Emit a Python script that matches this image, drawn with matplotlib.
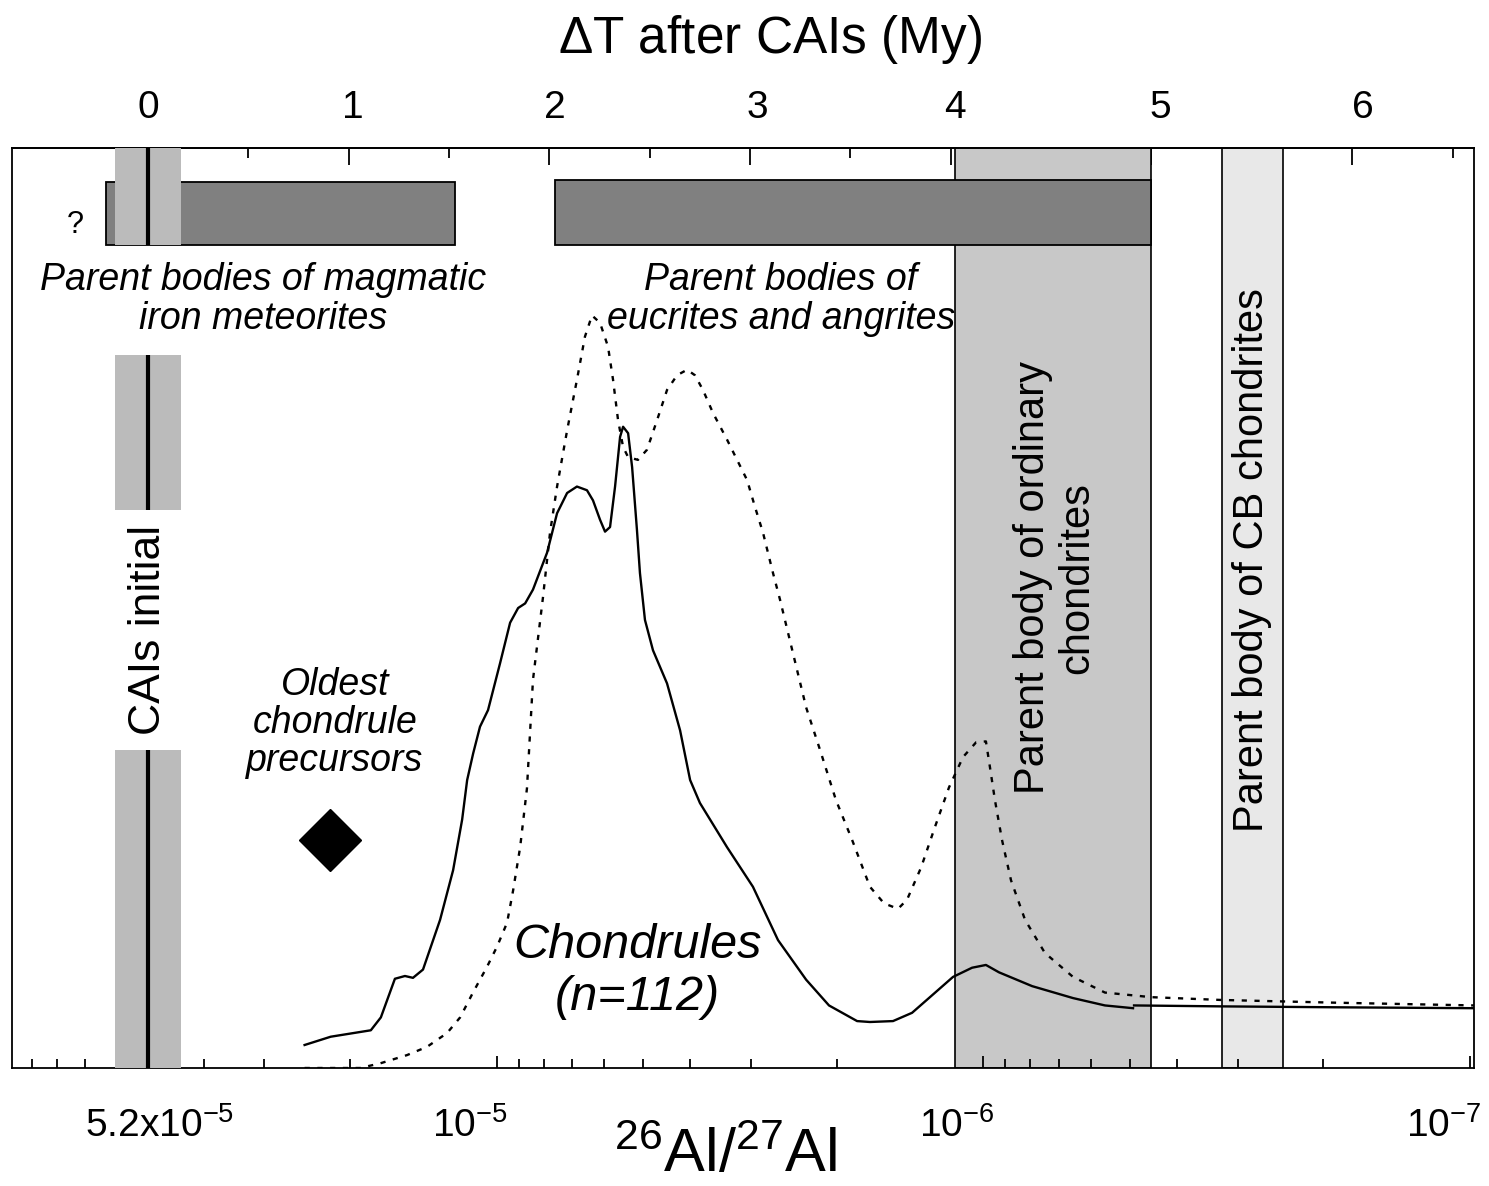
import numpy as np
import matplotlib
matplotlib.use('Agg')
from matplotlib import pyplot as plt
from matplotlib.transforms import ScaledTranslation

plt.rcParams['font.family'] = ['Liberation Sans', 'DejaVu Sans']
plt.rcParams['mathtext.fontset'] = 'custom'
plt.rcParams['mathtext.rm'] = 'Liberation Sans'
plt.rcParams['mathtext.it'] = 'Liberation Sans:italic'
plt.rcParams['mathtext.bf'] = 'Liberation Sans:bold'

# 26Al decay: CAI initial ratio and half-life (My)
al_initial = 5.2e-5
half_life = 0.73

# chondrule 26Al/27Al distribution (solid), dT after CAIs in My vs density (arb.)
chondrule_t = [0.78, 0.91, 1.11, 1.16, 1.23, 1.28, 1.32, 1.37, 1.455, 1.52, 1.565, 1.59,
               1.62, 1.654, 1.694, 1.754, 1.804, 1.844, 1.879, 1.918, 1.988, 2.038, 2.088,
               2.137, 2.187, 2.217, 2.252, 2.277, 2.302, 2.327, 2.352, 2.367, 2.392, 2.412,
               2.436, 2.451, 2.476, 2.516, 2.586, 2.651, 2.701, 2.75, 2.885, 3.014, 3.139,
               3.279, 3.393, 3.533, 3.597, 3.712, 3.807, 3.896, 4.011, 4.106, 4.175, 4.24,
               4.405, 4.609, 4.768, 4.908]
chondrule_v = [2.5, 3.4, 4.1, 5.5, 9.7, 10.0, 9.8, 10.7, 16.1, 21.5, 27.0, 31.3,
               34.2, 37.1, 38.9, 44.0, 48.4, 50.0, 50.5, 52.0, 56.0, 60.3, 62.5,
               63.2, 62.8, 61.7, 59.6, 58.3, 58.8, 63.2, 68.6, 69.7, 69.0, 65.3,
               58.5, 53.8, 48.7, 45.4, 41.8, 36.7, 31.3, 28.8, 24.0, 19.7, 13.9,
               9.6, 6.8, 5.1, 5.0, 5.1, 6.0, 7.7, 9.9, 10.9, 11.2, 10.4,
               8.9, 7.6, 6.8, 6.5]
tail_t = [4.913, 5.341, 5.914, 6.607]
tail_v = [6.8, 6.7, 6.6, 6.5]

# differentiated meteorites distribution (dotted)
dotted_t = [0.78, 1.056, 1.156, 1.29, 1.39, 1.49, 1.555, 1.619, 1.689, 1.739, 1.789, 1.819,
            1.854, 1.888, 1.918, 1.968, 2.003, 2.038, 2.088, 2.137, 2.177, 2.212, 2.252,
            2.292, 2.317, 2.342, 2.367, 2.392, 2.441, 2.486, 2.536, 2.586, 2.636, 2.686,
            2.725, 2.765, 2.815, 2.885, 2.935, 2.985, 3.024, 3.064, 3.114, 3.149, 3.279,
            3.348, 3.428, 3.508, 3.597, 3.667, 3.737, 3.782, 3.852, 3.921, 3.991, 4.061,
            4.126, 4.175, 4.195, 4.22, 4.255, 4.3, 4.37, 4.469, 4.609, 4.768, 4.998,
            5.341, 5.914, 6.607]
dotted_v = [0.0, 0.0, 0.5, 1.4, 2.3, 3.8, 5.5, 8.2, 11.0, 13.2, 15.8, 19.3,
            24.0, 30.4, 42.2, 51.2, 58.2, 63.2, 69.3, 74.8, 79.5, 81.8, 81.0,
            78.4, 74.8, 70.4, 67.5, 66.4, 66.1, 67.2, 70.4, 73.7, 75.3, 75.9,
            75.3, 73.7, 71.2, 68.3, 66.1, 63.9, 61.0, 58.2, 53.8, 50.9, 39.2,
            34.6, 29.1, 24.8, 19.7, 17.9, 17.3, 18.3, 21.8, 26.2, 30.5, 33.8,
            35.4, 35.5, 32.7, 29.1, 24.8, 20.4, 16.1, 12.5, 9.9, 8.2, 7.7,
            7.4, 7.1, 6.8]

# accretion intervals (My after CAIs)
iron_bar = (-0.21, 1.53)
eucrite_bar = (2.03, 5.0)
oc_band = (4.02, 5.0)
cb_band = (5.35, 5.655)
cai_band = (-0.165, 0.165)
cai_segments = [(89.5, 100), (60.7, 77.5), (0, 34.6)]
precursor_t = [0.907]
precursor_v = [24.8]

top_ticks = [0, 1, 2, 3, 4, 5, 6]
al_major = [5.2e-5, 1e-5, 1e-6, 1e-7]
al_major_labels = ['5.2x$10^{-5}$', '$10^{-5}$', '$10^{-6}$', '$10^{-7}$']
al_minor = [9e-5, 8e-5, 7e-5, 6e-5, 5e-5, 4e-5, 3e-5, 2e-5,
            9e-6, 8e-6, 7e-6, 6e-6, 5e-6, 4e-6, 3e-6, 2e-6,
            9e-7, 8e-7, 7e-7, 6e-7, 5e-7, 4e-7, 3e-7, 2e-7]

lam = np.log(2) / half_life


def al_to_t(r):
    return np.log(al_initial / np.asarray(r)) / lam


fig = plt.figure(figsize=(14.89, 11.86), dpi=100)
ax = fig.add_axes([12 / 1489, 118 / 1186, 1462 / 1489, 920 / 1186])
ax.set_xlim(-0.678, 6.607)
ax.set_ylim(0, 100)

# parent body bands
ax.axvspan(*oc_band, facecolor='#c8c8c8', edgecolor='black', lw=1.2, zorder=1)
ax.axvspan(*cb_band, facecolor='#e8e8e8', edgecolor='black', lw=1.2, zorder=1)

# accretion bars
ax.bar((iron_bar[0] + iron_bar[1]) / 2, 6.8, width=iron_bar[1] - iron_bar[0], bottom=89.5,
       color='#808080', edgecolor='black', lw=1.3, zorder=2)
ax.bar((eucrite_bar[0] + eucrite_bar[1]) / 2, 7.0, width=eucrite_bar[1] - eucrite_bar[0], bottom=89.5,
       color='#808080', edgecolor='black', lw=1.3, zorder=2)

# CAI band + line
for y0, y1 in cai_segments:
    ax.fill_between(cai_band, y0, y1, color='#bbbbbb', lw=0, zorder=3)
    ax.vlines(0, y0, y1, color='black', lw=3, zorder=4)

# curves
ax.plot(chondrule_t, chondrule_v, color='black', lw=1.7, zorder=5, solid_joinstyle='round')
ax.plot(tail_t, tail_v, color='black', lw=1.7, zorder=5)
ax.plot(dotted_t, dotted_v, color='black', lw=1.7, ls=(0, (2.2, 3.2)), zorder=5)
ax.plot(precursor_t, precursor_v, 'D', color='black', ms=32, zorder=6)

# annotations
ax.text(-0.364, 91.6, '?', fontsize=22, ha='center', va='center')
ax.text(0.573, 83.5, 'Parent bodies of magmatic\niron meteorites', style='italic',
        fontsize=27, ha='center', va='center', linespacing=1.12)
ax.text(3.154, 83.5, 'Parent bodies of\neucrites and angrites', style='italic',
        fontsize=27, ha='center', va='center', linespacing=1.12)
ax.text(0, 47.6, 'CAIs initial', rotation=90, fontsize=32, ha='center', va='center')
ax.text(0.93, 37.5, 'Oldest\nchondrule\nprecursors', style='italic',
        fontsize=27, ha='center', va='center', linespacing=1.08)
ax.text(2.44, 10.5, 'Chondrules\n(n=112)', style='italic', fontsize=35,
        ha='center', va='center', linespacing=1.2)
ax.text(4.52, 53.3, 'Parent body of ordinary\nchondrites', rotation=90, fontsize=30,
        ha='center', va='center', linespacing=1.12)
ax.text(5.50, 55.2, 'Parent body of CB chondrites', rotation=90, fontsize=30,
        ha='center', va='center')

# bottom axis: 26Al/27Al
ax.set_yticks([])
ax.set_xticks(al_to_t(al_major), al_major_labels, fontsize=28)
ax.set_xticks(al_to_t(al_minor), minor=True)
ax.tick_params(axis='x', which='major', direction='in', length=9, width=1.3, pad=28)
ax.tick_params(axis='x', which='minor', direction='in', length=6.5, width=1.3)
offsets = [8, -19, -19, -19]
for lab, dx in zip(ax.get_xticklabels(), offsets):
    lab.set_transform(lab.get_transform() + ScaledTranslation(dx / 72, 0, fig.dpi_scale_trans))

# top axis: dT after CAIs
sec = ax.secondary_xaxis('top')
sec.set_xticks(top_ticks)
sec.set_xticks(np.arange(0.5, 6.6, 1.0), minor=True)
sec.tick_params(axis='x', which='major', direction='in', length=12, width=1.3, pad=16, labelsize=28)
sec.tick_params(axis='x', which='minor', direction='in', length=7, width=1.3)
top_offsets = [0, 3, 4, 5, 3, 6, 8]
for lab, dx in zip(sec.get_xticklabels(), top_offsets):
    lab.set_transform(lab.get_transform() + ScaledTranslation(dx / 72, 0, fig.dpi_scale_trans))

for sp in ax.spines.values():
    sp.set_linewidth(1.3)
for sp in sec.spines.values():
    sp.set_linewidth(1.3)

fig.text(770 / 1489, 1 - 40 / 1186, r'$\Delta$T after CAIs (My)', fontsize=37, ha='center', va='center')
fig.text(726 / 1489, 1 - 1172 / 1186, '$^{26}$Al/$^{27}$Al', fontsize=44, ha='center', va='baseline')

fig.savefig('out.png', dpi=100)
